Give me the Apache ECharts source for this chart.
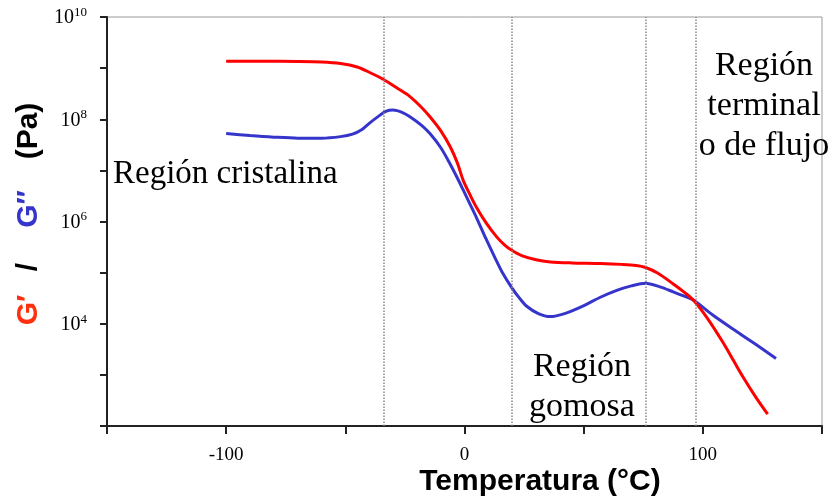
<!DOCTYPE html>
<html>
<head>
<meta charset="utf-8">
<script src="https://cdn.jsdelivr.net/npm/echarts@6/dist/echarts.min.js"></script>
<style>
  html, body { margin: 0; padding: 0; background: #fff; }
  #chart { width: 834px; height: 499px; }
</style>
</head>
<body>
<div id="chart"></div>
<script>
// Storage modulus G' (Pa) vs temperature (°C)
const tempStorage = [-100, -85, -70, -60, -52, -45, -40, -34, -28, -23, -18, -14.5, -10, -6, -3, -0.5, 2.5, 5, 9, 13.5, 17, 20, 24, 30, 36, 45, 57, 66, 72, 76, 81, 87.6, 92, 96, 102, 108.6, 113, 117, 122, 127.2];
const storageModulus = [1.37e9, 1.36e9, 1.35e9, 1.32e9, 1.23e9, 1.05e9, 8.3e8, 6.0e8, 4.0e8, 2.8e8, 1.7e8, 1.12e8, 6.0e7, 2.9e7, 1.4e7, 6.3e6, 3.2e6, 1.9e6, 9.5e5, 5.0e5, 3.4e5, 2.7e5, 2.15e5, 1.78e5, 1.62e5, 1.55e5, 1.51e5, 1.45e5, 1.38e5, 1.26e5, 9.8e4, 6.0e4, 4.2e4, 2.9e4, 1.26e4, 4.2e3, 1.86e3, 890, 380, 170];

// Loss modulus G'' (Pa) vs temperature (°C)
const tempLoss = [-100, -90, -80, -70, -60, -52, -47, -43, -39.7, -36, -33, -30, -26, -22.9, -18, -14.5, -10, -6.1, -3, -0.5, 2.5, 5.1, 9, 12.8, 16, 19.8, 23, 26.1, 31, 35.9, 42, 49.9, 57, 63.9, 70, 76, 82, 87.6, 92, 96, 104, 112.8, 122, 130.7];
const lossModulus = [5.25e7, 4.8e7, 4.47e7, 4.27e7, 4.27e7, 4.57e7, 5.1e7, 6.3e7, 8.5e7, 1.15e8, 1.43e8, 1.51e8, 1.35e8, 1.12e8, 7.6e7, 5.25e7, 2.8e7, 1.35e7, 7.1e6, 4.1e6, 2.1e6, 1.17e6, 4.6e5, 1.95e5, 9.8e4, 5.1e4, 3.2e4, 2.2e4, 1.58e4, 1.38e4, 1.58e4, 2.24e4, 3.3e4, 4.5e4, 5.5e4, 6.2e4, 5.25e4, 4.2e4, 3.5e4, 2.9e4, 1.5e4, 7.8e3, 4.0e3, 2.1e3];

// Region boundaries (°C)
const regionBounds = [-33.8, 19.8, 76, 97];

// Axis ticks
const xLabelTicks = [-100, 0, 100];
const yLabelExponents = [4, 6, 8, 10];

const SERIF = '"Liberation Serif", "Times New Roman", serif';
const SANS = '"Liberation Sans", Arial, sans-serif';

const chart = echarts.init(document.getElementById('chart'), null, { renderer: 'canvas' });

const pairs = (xs, ys) => xs.map((x, i) => [x, ys[i]]);

chart.setOption({
  animation: false,
  backgroundColor: '#fff',
  grid: {
    left: 107, right: 12, top: 17, bottom: 73,
    show: true, borderColor: '#999', borderWidth: 1, backgroundColor: 'transparent'
  },
  xAxis: {
    type: 'value',
    min: -150, max: 150, interval: 50,
    axisLine: { show: true, onZero: false, lineStyle: { color: '#222', width: 2 } },
    axisTick: { show: true, inside: false, length: 8, lineStyle: { color: '#222', width: 2 } },
    splitLine: { show: false },
    axisLabel: {
      margin: 20,
      fontFamily: SERIF, fontSize: 19, color: '#000',
      formatter: v => xLabelTicks.includes(v) ? String(v) : ''
    }
  },
  yAxis: {
    type: 'log', logBase: 10,
    min: 1e2, max: 1e10, interval: 1,
    axisLine: { show: true, onZero: false, lineStyle: { color: '#222', width: 2 } },
    axisTick: { show: true, inside: false, length: 7, lineStyle: { color: '#222', width: 2 } },
    splitLine: { show: false },
    minorTick: { show: false },
    axisLabel: {
      margin: 20,
      color: '#000',
      formatter: v => {
        const e = Math.round(Math.log10(v));
        return yLabelExponents.includes(e) ? '{b|10}{e|' + e + '}' : '';
      },
      rich: {
        b: { fontFamily: SERIF, fontSize: 20, color: '#000', lineHeight: 22, verticalAlign: 'bottom' },
        e: { fontFamily: SERIF, fontSize: 13, color: '#000', lineHeight: 22, verticalAlign: 'top', padding: [0, 0, 8, 0] }
      }
    }
  },
  series: [
    {
      name: "G'",
      type: 'line',
      smooth: 0.3,
      showSymbol: false,
      data: pairs(tempStorage, storageModulus),
      lineStyle: { color: '#ff0000', width: 3 },
      z: 3,
      markLine: {
        silent: true,
        symbol: ['none', 'none'],
        label: { show: false },
        lineStyle: { color: '#888', type: 'dotted', width: 1.5 },
        data: regionBounds.map(x => ({ xAxis: x }))
      }
    },
    {
      name: "G''",
      type: 'line',
      smooth: 0.3,
      showSymbol: false,
      data: pairs(tempLoss, lossModulus),
      lineStyle: { color: '#3535cc', width: 3 },
      z: 2
    }
  ],
  graphic: [
    // y axis title, rotated
    { type: 'text', x: 29, y: 310, rotation: Math.PI / 2,
      style: { text: 'G\u2032', font: 'bold 30px ' + SANS, fill: '#ff3010', textAlign: 'center', textVerticalAlign: 'middle' } },
    { type: 'text', x: 29, y: 267, rotation: Math.PI / 2,
      style: { text: '/', font: 'bold 30px ' + SANS, fill: '#000', textAlign: 'center', textVerticalAlign: 'middle' } },
    { type: 'text', x: 29, y: 209, rotation: Math.PI / 2,
      style: { text: 'G\u2033', font: 'bold 30px ' + SANS, fill: '#3535cc', textAlign: 'center', textVerticalAlign: 'middle' } },
    { type: 'text', x: 29, y: 131, rotation: Math.PI / 2,
      style: { text: '(Pa)', font: 'bold 30px ' + SANS, fill: '#000', textAlign: 'center', textVerticalAlign: 'middle' } },
    // x axis title
    { type: 'text', x: 540, y: 482,
      style: { text: 'Temperatura (°C)', font: 'bold 30px ' + SANS, fill: '#000', textAlign: 'center', textVerticalAlign: 'middle' } },
    // region labels
    { type: 'text', x: 113, y: 174,
      style: { text: 'Región cristalina', font: '33px ' + SERIF, fill: '#000', textAlign: 'left', textVerticalAlign: 'middle' } },
    { type: 'text', x: 582, y: 387,
      style: { text: 'Región\ngomosa', font: '34px ' + SERIF, lineHeight: 40, fill: '#000', textAlign: 'center', textVerticalAlign: 'middle' } },
    { type: 'text', x: 764, y: 106,
      style: { text: 'Región\nterminal\no de flujo', font: '34px ' + SERIF, lineHeight: 40, fill: '#000', textAlign: 'center', textVerticalAlign: 'middle' } }
  ]
});
</script>
</body>
</html>
